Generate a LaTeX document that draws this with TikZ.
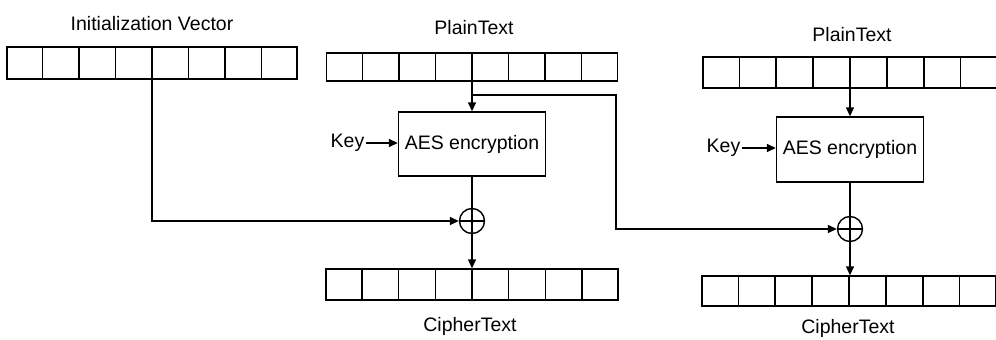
\documentclass[tikz,border=0pt]{standalone}
\usepackage{fontspec}
\setmainfont{Liberation Sans}
\usetikzlibrary{calc,arrows.meta}
\begin{document}
\begin{tikzpicture}[x=1pt,y=-1pt,
  line width=1.4pt,
  every node/.style={font=\fontsize{19.5}{22}\selectfont},
  reg/.style={draw, rectangle, inner sep=0pt},
  aesbox/.style={draw, rectangle, inner sep=0pt, minimum width=147pt, minimum height=64pt},
  lbl/.style={inner sep=1pt},
  xorc/.style={draw, circle, inner sep=0pt, minimum size=25pt,
    path picture={\draw[line width=1.4pt] (path picture bounding box.north) -- (path picture bounding box.south)
      (path picture bounding box.west) -- (path picture bounding box.east);}},
  arr/.style={-{Triangle[length=9pt,width=8pt]}}
]
\useasboundingbox (0,0) rectangle (996,340);
% registers
\node[reg, minimum width=290pt, minimum height=32pt] (iv) at (152,63) {};
\node[reg, minimum width=291pt, minimum height=28pt] (pt1) at (472,67) {};
\node[reg, minimum width=292pt, minimum height=31pt] (ct1) at (472,284.5) {};
\node[reg, minimum width=294pt, minimum height=31pt] (pt2) at (850,72.5) {};
\node[reg, minimum width=294pt, minimum height=30pt] (ct2) at (849,291) {};
\foreach \r in {iv,pt1,ct1,pt2,ct2}{
  \foreach \i in {1,...,7}{
    \draw ($(\r.south west)!\i/8!(\r.south east)$) -- ($(\r.north west)!\i/8!(\r.north east)$);
  }
}
% labels
\node[lbl] (ivl) at (152,24) {Initialization Vector};
\node[lbl] (pt1l) at (474,28) {PlainText};
\node[lbl] (pt2l) at (852,35) {PlainText};
\node[lbl] (ct1l) at (470,326) {CipherText};
\node[lbl] (ct2l) at (848,328) {CipherText};
% AES boxes
\node[aesbox] (aes1) at (472,144) {AES encryption};
\node[aesbox, minimum height=65pt] (aes2) at (850,149.5) {AES encryption};
% keys
\node[lbl, anchor=east] (k1) at (366,143) {Key};
\node[lbl, anchor=east] (k2) at (742,148) {Key};
\draw[arr] (k1.east) -- (k1.east -| aes1.west);
\draw[arr] (k2.east) -- (k2.east -| aes2.west);
% xor
\node[xorc] (x1) at (472,221) {};
\node[xorc] (x2) at (850,229) {};
% connectors
\coordinate (br) at (472,95);
\coordinate (bc) at (616,95);
\coordinate (ivd) at (152,221);
\draw[arr] (pt1.south) -- (aes1.north);
\draw[arr] (pt2.south) -- (aes2.north);
\draw (aes1.south) -- (x1.north);
\draw (aes2.south) -- (x2.north);
\draw[arr] (x1.south) -- (x1.south |- ct1.north);
\draw[arr] (x2.south) -- (x2.south |- ct2.north);
\draw[arr] (iv.south) -- (ivd) -- (x1.west);
\draw[arr] (br) -- (bc) -- (bc |- x2.west) -- (x2.west);
\end{tikzpicture}
\end{document}
